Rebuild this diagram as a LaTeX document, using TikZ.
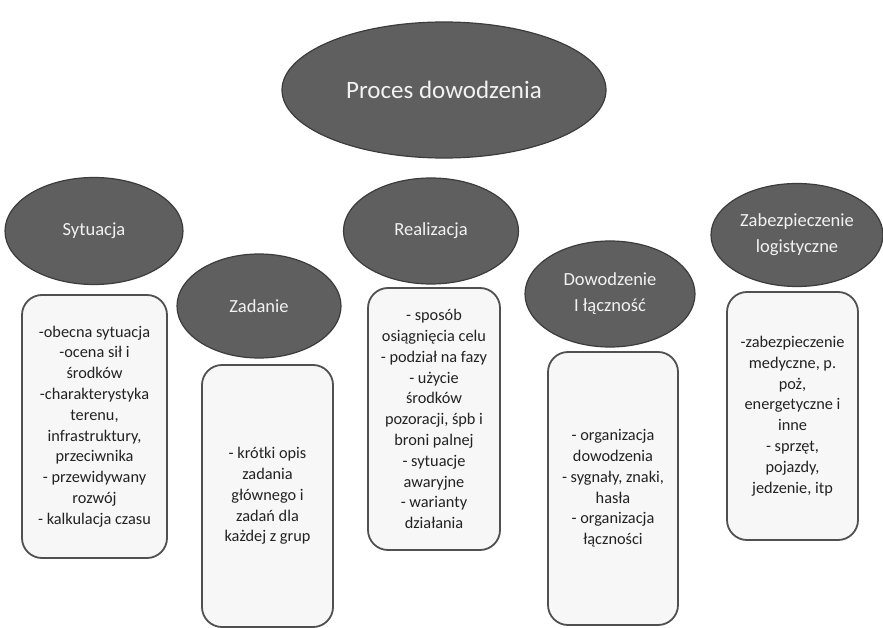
\documentclass[tikz,border=0pt]{standalone}
\usepackage{fontspec}
\setmainfont{Carlito}
\usetikzlibrary{shapes.geometric}
\definecolor{bubblefill}{HTML}{5F5F5F}
\definecolor{bubbleline}{HTML}{3C3C3C}
\definecolor{bubbletext}{HTML}{F2F2F2}
\definecolor{cardfill}{HTML}{F7F7F7}
\definecolor{cardline}{HTML}{505050}
\definecolor{cardtext}{HTML}{222222}
\tikzset{
  bubble/.style={ellipse, draw=bubbleline, line width=1.2pt, fill=bubblefill,
    text=bubbletext, inner sep=0pt, align=center,
    font=\fontsize{18.5}{26}\selectfont},
  card/.style={rectangle, rounded corners=20pt, draw=cardline, line width=1.8pt,
    fill=cardfill, text=cardtext, inner sep=0pt, align=center,
    font=\fontsize{16.3}{20.8}\selectfont},
}
\begin{document}
\begin{tikzpicture}[x=1pt, y=-1pt]
  \useasboundingbox (0,0) rectangle (883,628);
  \fill[white] (0,0) rectangle (883,628);

  % main topic
  \node[bubble, minimum width=324pt, minimum height=136pt,
        font=\fontsize{25}{30}\selectfont] (proces) at (444,90) {Proces dowodzenia};

  % section headings
  \node[bubble, minimum width=178pt, minimum height=107pt] (sytuacja) at (94,231) {Sytuacja};
  \node[bubble, minimum width=164pt, minimum height=104pt] (zadanie) at (259,306) {Zadanie};
  \node[bubble, minimum width=175pt, minimum height=106pt] (realizacja) at (431,231) {Realizacja};
  \node[bubble, minimum width=170pt, minimum height=106pt] (dowodzenie) at (610,294) {Dowodzenie\\I łączność};
  \node[bubble, minimum width=172pt, minimum height=103pt] (logistyka) at (797,235) {Zabezpieczenie\\logistyczne};

  % detail cards
  \node[card, minimum width=145pt, minimum height=263pt] (sytuacjaOpis) at (94.5,426.5)
    {-obecna sytuacja\\-ocena sił i\\środków\\-charakterystyka\\terenu,\\infrastruktury,\\przeciwnika\\- przewidywany\\rozwój\\- kalkulacja czasu};
  \node[card, minimum width=131pt, minimum height=262pt] (zadanieOpis) at (267.5,496)
    {- krótki opis\\zadania\\głównego i\\zadań dla\\każdej z grup};
  \node[card, minimum width=132pt, minimum height=262pt] (realizacjaOpis) at (434,419)
    {- sposób\\osiągnięcia celu\\- podział na fazy\\- użycie\\środków\\pozoracji, śpb i\\broni palnej\\- sytuacje\\awaryjne\\- warianty\\działania};
  \node[card, minimum width=130pt, minimum height=273pt] (dowodzenieOpis) at (613,488.5)
    {- organizacja\\dowodzenia\\- sygnały, znaki,\\hasła\\- organizacja\\łączności};
  \node[card, minimum width=131pt, minimum height=248pt] (logistykaOpis) at (792.5,416)
    {-zabezpieczenie\\medyczne, p.\\poż,\\energetyczne i\\inne\\- sprzęt,\\pojazdy,\\jedzenie, itp};
\end{tikzpicture}
\end{document}
